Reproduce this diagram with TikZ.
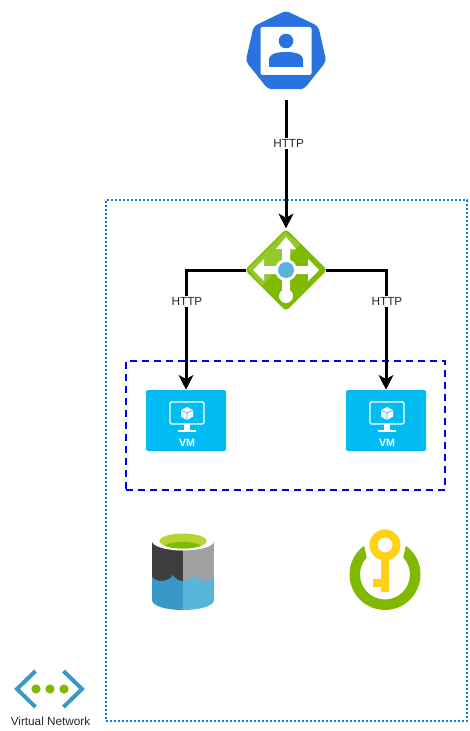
\documentclass[tikz,border=0pt]{standalone}
\usepackage{fontspec}
\setmainfont{Liberation Sans}
\usetikzlibrary{shapes.geometric, arrows.meta}
\definecolor{userblue}{HTML}{2A72E0}
\definecolor{lbgreen}{HTML}{7FBA00}
\definecolor{lblight}{HTML}{95C82B}
\definecolor{lbblue}{HTML}{59B4D9}
\definecolor{vmblue}{HTML}{00BCF2}
\definecolor{vnetblue}{HTML}{3999C6}
\definecolor{vnetdot}{HTML}{0080F0}
\definecolor{setblue}{HTML}{0000EE}
\definecolor{lakedark}{HTML}{3E3E3E}
\definecolor{lakegrey}{HTML}{A0A1A2}
\definecolor{lakelime}{HTML}{B8D432}
\definecolor{keyyellow}{HTML}{FFD016}
\tikzstyle{usericon} = [regular polygon, regular polygon sides=7, minimum size=62pt, inner sep=0pt, rounded corners=3pt, fill=userblue]
\tikzstyle{lbicon} = [diamond, minimum size=62pt, inner sep=0pt, rounded corners=3pt, fill=lbgreen]
\tikzstyle{vmbox} = [rectangle, minimum width=60pt, minimum height=45.75pt, inner sep=0pt, rounded corners=1.5pt, fill=vmblue]
\tikzstyle{vmlabel} = [font=\fontsize{8}{9}\selectfont\bfseries, text=white, inner sep=0pt]
\tikzstyle{iconspot} = [circle, minimum size=52pt, inner sep=0pt]
\tikzstyle{textlabel} = [font=\fontsize{8.8}{10}\selectfont, text=black!85, inner sep=1pt]
\tikzstyle{httplabel} = [textlabel, fill=white]
\tikzstyle{arrow} = [line width=2.25pt, -{Stealth[length=11pt, width=11pt, inset=3pt]}]
\tikzstyle{vnetbox} = [draw=vnetdot, line width=1.1pt, dash pattern=on 1.5pt off 1.5pt]
\tikzstyle{setbox} = [draw=setblue, line width=1.3pt, dash pattern=on 5pt off 4pt]
\tikzset{
  userface/.pic={
    \fill [white, rounded corners=1.5pt] (-25.5,25) rectangle (25.5,-23);
    \fill [userblue] (0,11) circle [radius=7.3];
    \fill [userblue] (-17,-15) -- (-17,-8) .. controls (-17,-1) and (-7,0) .. (0,0) .. controls (7,0) and (17,-1) .. (17,-8) -- (17,-15) -- cycle;
  },
  lbface/.pic={
    \fill [lblight] (-38,1) -- (-1,38) -- (14,26) -- (-24,-16) -- cycle;
    \fill [white] (-4,0) -- (-4,21) -- (-10,21) -- (0,33) -- (10,21) -- (4,21) -- (4,4) -- (22,4) -- (22,11) -- (33,0) -- (22,-11) -- (22,-4) -- (4,-4) -- (4,-20) -- (-4,-20) -- (-4,-4) -- (-22,-4) -- (-22,-11) -- (-33,0) -- (-22,11) -- (-22,4) -- (-4,4) -- cycle;
    \fill [white] (0,-26) circle [radius=7];
    \fill [white] (0,0) circle [radius=11];
    \fill [lbblue] (0,0) circle [radius=8];
  },
  vmface/.pic={
    \draw [white, line width=1.1pt, rounded corners=1pt] (-16,18.5) rectangle (18,-3.5);
    \fill [white] (-2,-3.5) rectangle (4,-9.5);
    \fill [white] (-8,-9.5) rectangle (10,-11);
    \fill [white] (1,13.5) -- (7,10.5) -- (7,4) -- (1,0.5) -- (-5,4) -- (-5,10.5) -- cycle;
    \draw [vmblue, line width=0.4pt] (-5,10.5) -- (1,7.5) -- (7,10.5) (1,7.5) -- (1,0.5);
  },
  lakeface/.pic={
    \fill [lakedark] (-31,30) rectangle (0,-20);
    \fill [lakegrey] (0,30) rectangle (31,-20);
    \fill [vnetblue] (-31,-6) .. controls (-28,-9) and (-25,-10) .. (-23,-10) .. controls (-17,-10) and (-12,-8) .. (-10,-4) .. controls (-8,-8) and (-4,-10) .. (0,-10) -- (0,-39) .. controls (-17,-39) and (-31,-35) .. (-31,-29) -- cycle;
    \fill [lbblue] (0,-10) .. controls (4,-10) and (9,-8) .. (11,-4) .. controls (13,-8) and (18,-10) .. (24,-10) .. controls (26,-10) and (29,-9) .. (31,-6) -- (31,-29) .. controls (31,-35) and (17,-39) .. (0,-39) -- cycle;
    \fill [white] (0,30) ellipse [x radius=31, y radius=9.5];
    \fill [lakelime] (0,30) ellipse [x radius=23.5, y radius=7.5];
    \begin{scope}
      \clip (0,30) ellipse [x radius=23.5, y radius=7.5];
      \fill [lbgreen] (0,23) ellipse [x radius=20, y radius=6];
    \end{scope}
  },
  keyface/.pic={
    \fill [lbgreen] (126:35.5) arc [start angle=126, end angle=414, radius=35.5] -- (43:25) arc [start angle=43, end angle=-223, radius=25] -- cycle;
    \fill [keyyellow, even odd rule] (0,29.5) circle [radius=15.5] (0,29.5) circle [radius=7.5];
    \fill [keyyellow] (-4,16) -- (4,16) -- (4,-17.5) -- (-4,-17.5) -- (-4,-12.5) -- (-12,-12.5) -- (-12,-4.5) -- (-4,-4.5) -- cycle;
  },
  vnetface/.pic={
    \draw [vnetblue, line width=3pt] (-14.5,18) -- (-33,0) -- (-14.5,-18);
    \draw [vnetblue, line width=3pt] (13.5,18) -- (32,0) -- (13.5,-18);
    \foreach \i in {-14,0,14} \fill [lbgreen] (\i,0) circle [radius=4.6];
  }
}

\begin{document}
\begin{tikzpicture}[x=0.75pt, y=0.75pt, node distance=150pt]
    \useasboundingbox (0,0) rectangle (469,-731);

    % Nodes
    \node (user) [usericon] at (286,-52) {};
    \node (lb) [lbicon] at (286,-270) {};
    \node (vma) [vmbox] at (186,-420.5) {};
    \node (vmb) [vmbox, right of=vma] {};
    \node (vmalabel) [vmlabel] at ([xshift=0.75pt, yshift=-16.9pt]vma.center) {VM};
    \node (vmblabel) [vmlabel] at ([xshift=0.75pt, yshift=-16.9pt]vmb.center) {VM};
    \node (lake) [iconspot] at (183,-571) {};
    \node (key) [iconspot, right of=lake, xshift=1.5pt, yshift=-2.6pt] {};
    \node (vnet) [iconspot, minimum size=40pt] at (50,-689) {};
    \node (vnetlabel) [textlabel] at (50.5,-721) {Virtual Network};

    % Icons
    \pic at (user) {userface};
    \pic at (lb) {lbface};
    \pic at (vma) {vmface};
    \pic at (vmb) {vmface};
    \pic at (lake) {lakeface};
    \pic at (key) {keyface};
    \pic at (vnet) {vnetface};

    % Boxes
    \node (vnetarea) [vnetbox, rectangle, minimum width=270.75pt, minimum height=390.75pt, inner sep=0pt] at (286.5,-460.5) {};
    \node (vmset) [setbox, rectangle, minimum width=239.25pt, minimum height=96.75pt, inner sep=0pt] at (285.5,-425.5) {};

    % Arrows
    \draw [arrow] ([yshift=-7.5pt]user.south) -- (lb.north) node[httplabel, pos=0.34, xshift=2pt] {HTTP};
    \draw [arrow] ([xshift=1.5pt]lb.west) -| (vma.north) node[httplabel, pos=0.63, xshift=0.75pt] {HTTP};
    \draw [arrow] ([xshift=-1.5pt]lb.east) -| (vmb.north) node[httplabel, pos=0.63, xshift=0.75pt] {HTTP};

\end{tikzpicture}
\end{document}
